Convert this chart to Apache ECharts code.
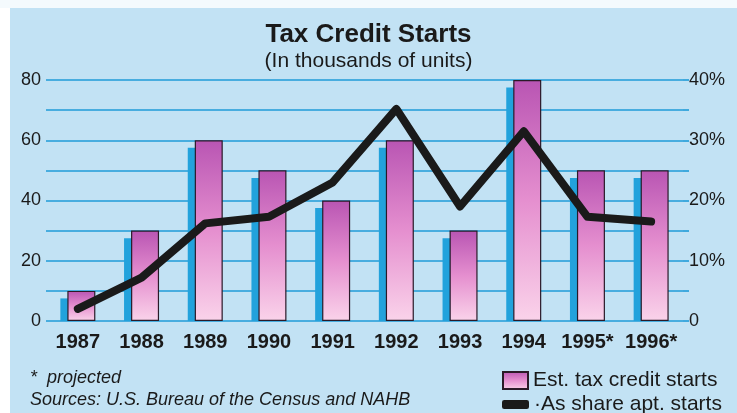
<!DOCTYPE html>
<html>
<head>
<meta charset="utf-8">
<script src="https://cdn.jsdelivr.net/npm/echarts@6/dist/echarts.min.js"></script>
<style>
  html, body { margin: 0; padding: 0; background: #c2e2f4; }
  #chart { width: 737px; height: 413px; }
</style>
</head>
<body>
<div id="chart"></div>
<script>
// data
const years = ["1987", "1988", "1989", "1990", "1991", "1992", "1993", "1994", "1995*", "1996*"];
const taxCreditStarts = [10, 30, 60, 50, 40, 60, 30, 80, 50, 50];          // thousands of units
const shadowStarts = [7.5, 27.5, 57.5, 47.5, 37.5, 57.5, 27.5, 77.5, 47.5, 47.5]; // blue back bars
const shareAptStarts = [2, 7.2, 16.2, 17.3, 23, 35.2, 19, 31.5, 17.3, 16.5]; // percent
const leftTicks = [0, 20, 40, 60, 80];
const rightTicks = [0, 10, 20, 30, 40];

const FONT = '"Liberation Sans", Arial, sans-serif';
const gridBlue = "#1f9bd8";
const BAR_NAME = "Est. tax credit starts";
const LINE_NAME = "\u00b7As share apt. starts";

const chart = echarts.init(document.getElementById("chart"));

const pinkGradient = new echarts.graphic.LinearGradient(0, 0, 0, 1, [
  { offset: 0, color: "#b955b3" },
  { offset: 0.5, color: "#e58fcf" },
  { offset: 1, color: "#fad3ea" },
]);

const legendText = { fontFamily: FONT, fontSize: 21, color: "#1a1a1a" };

const option = {
  backgroundColor: "#c2e2f4",
  animation: false,
  textStyle: { fontFamily: FONT },
  title: {
    text: "Tax Credit Starts",
    subtext: "(In thousands of units)",
    left: "center",
    top: 17,
    itemGap: 3,
    textStyle: { fontFamily: FONT, fontSize: 26, fontWeight: "bold", color: "#1a1a1a" },
    subtextStyle: { fontFamily: FONT, fontSize: 21, color: "#1a1a1a" },
  },
  grid: { left: 46, right: 54, top: 80, bottom: 92 },
  legend: [
    {
      left: 497,
      top: 365,
      itemWidth: 25,
      itemHeight: 17,
      itemGap: 10,
      textStyle: legendText,
      data: [{ name: BAR_NAME, icon: "rect" }],
    },
    {
      left: 497,
      top: 389,
      itemWidth: 27,
      itemHeight: 9,
      textStyle: legendText,
      data: [{ name: LINE_NAME, icon: "roundRect", itemStyle: { color: "#1a1a1a" } }],
    },
  ],
  xAxis: {
    type: "category",
    data: years,
    axisLine: { show: false },
    axisTick: { show: false },
    axisLabel: { interval: 0, fontFamily: FONT, fontSize: 20, fontWeight: "bold", color: "#1a1a1a", margin: 11 },
  },
  yAxis: [
    {
      type: "value",
      min: 0,
      max: 80,
      interval: 10,
      axisLine: { show: false },
      axisTick: { show: false },
      axisLabel: {
        fontFamily: FONT,
        fontSize: 18,
        color: "#1a1a1a",
        margin: 5,
        formatter: (v) => (leftTicks.includes(v) ? String(v) : ""),
      },
      splitLine: { show: true, lineStyle: { color: gridBlue, width: 1.6 } },
    },
    {
      type: "value",
      min: 0,
      max: 40,
      interval: 5,
      position: "right",
      axisLine: { show: false },
      axisTick: { show: true, length: 6, lineStyle: { color: gridBlue, width: 1.6 } },
      axisLabel: {
        fontFamily: FONT,
        fontSize: 18,
        color: "#1a1a1a",
        margin: 6,
        formatter: (v) => (rightTicks.includes(v) ? (v === 0 ? "0" : v + "%") : ""),
      },
      splitLine: { show: false },
    },
  ],
  series: [
    {
      name: "shadow",
      type: "bar",
      data: shadowStarts,
      barWidth: 28,
      barGap: "-75%",
      itemStyle: { color: "#22a2dc" },
      silent: true,
      z: 2,
    },
    {
      name: BAR_NAME,
      type: "bar",
      data: taxCreditStarts,
      barWidth: 28,
      itemStyle: { color: pinkGradient, borderColor: "#2a1a28", borderWidth: 1.2 },
      z: 3,
    },
    {
      name: LINE_NAME,
      type: "line",
      yAxisIndex: 1,
      data: shareAptStarts,
      symbol: "none",
      lineStyle: { color: "#1a1a1a", width: 8, cap: "round", join: "round" },
      itemStyle: { color: "#1a1a1a" },
      z: 5,
    },
  ],
  graphic: [
    { type: "rect", left: 0, top: 0, shape: { width: 10, height: 413 }, style: { fill: "#ffffff" } },
    { type: "rect", left: 0, top: 0, shape: { width: 737, height: 8 }, style: { fill: "#f4fafd" } },
    {
      type: "text",
      left: 30,
      top: 369,
      style: { text: "*  projected", font: "italic 18px " + FONT, fill: "#1a1a1a" },
    },
    {
      type: "text",
      left: 30,
      top: 391,
      style: { text: "Sources: U.S. Bureau of the Census and NAHB", font: "italic 18px " + FONT, fill: "#1a1a1a" },
    },
  ],
};

chart.setOption(option);
</script>
</body>
</html>
